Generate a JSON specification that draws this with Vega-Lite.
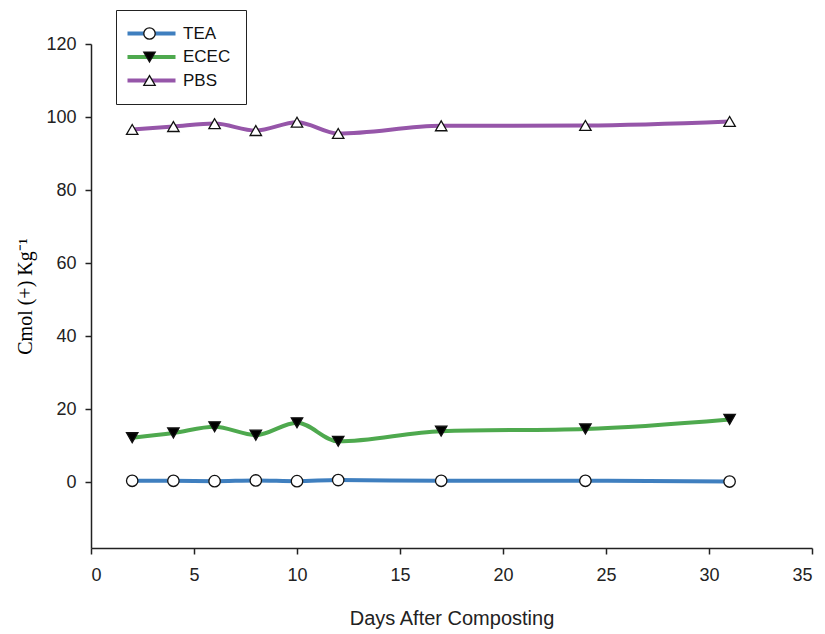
{
  "$schema": "https://vega.github.io/schema/vega-lite/v6.json",
  "width": 721,
  "height": 504,
  "autosize": "none",
  "padding": {"left": 91, "top": 44, "right": 13, "bottom": 86},
  "config": {
    "view": {"stroke": null},
    "font": "Liberation Sans",
    "legend": {"symbolStrokeColor": "#111111"},
    "axis": {
      "grid": false,
      "domainColor": "#222222",
      "domainWidth": 1.5,
      "tickColor": "#222222",
      "tickWidth": 1.5,
      "tickSize": 6,
      "labelColor": "#222222",
      "labelFontSize": 18,
      "labelFont": "Liberation Sans",
      "titleFontWeight": "normal",
      "titleColor": "#222222"
    }
  },
  "data": {
    "values": [
      {"day": 2, "series": "TEA", "value": 0.4},
      {"day": 4, "series": "TEA", "value": 0.4},
      {"day": 6, "series": "TEA", "value": 0.3},
      {"day": 8, "series": "TEA", "value": 0.5},
      {"day": 10, "series": "TEA", "value": 0.3},
      {"day": 12, "series": "TEA", "value": 0.6},
      {"day": 17, "series": "TEA", "value": 0.4},
      {"day": 24, "series": "TEA", "value": 0.4},
      {"day": 31, "series": "TEA", "value": 0.2},
      {"day": 2, "series": "ECEC", "value": 12.2},
      {"day": 4, "series": "ECEC", "value": 13.5},
      {"day": 6, "series": "ECEC", "value": 15.2},
      {"day": 8, "series": "ECEC", "value": 12.9},
      {"day": 10, "series": "ECEC", "value": 16.3},
      {"day": 12, "series": "ECEC", "value": 11.2},
      {"day": 17, "series": "ECEC", "value": 14.0},
      {"day": 24, "series": "ECEC", "value": 14.6},
      {"day": 31, "series": "ECEC", "value": 17.2},
      {"day": 2, "series": "PBS", "value": 96.6},
      {"day": 4, "series": "PBS", "value": 97.4},
      {"day": 6, "series": "PBS", "value": 98.2},
      {"day": 8, "series": "PBS", "value": 96.3},
      {"day": 10, "series": "PBS", "value": 98.6},
      {"day": 12, "series": "PBS", "value": 95.5},
      {"day": 17, "series": "PBS", "value": 97.6},
      {"day": 24, "series": "PBS", "value": 97.7},
      {"day": 31, "series": "PBS", "value": 98.8}
    ]
  },
  "encoding": {
    "x": {
      "field": "day",
      "type": "quantitative",
      "scale": {"domain": [0, 35], "nice": false, "zero": false},
      "axis": {
        "values": [0, 5, 10, 15, 20, 25, 30, 35],
        "title": "Days After Composting",
        "titleFont": "Liberation Sans",
        "titleFontSize": 20,
        "titlePadding": 24,
        "labelPadding": 12
      }
    },
    "y": {
      "field": "value",
      "type": "quantitative",
      "scale": {"domain": [-18, 120], "nice": false, "zero": false},
      "axis": {
        "values": [0, 20, 40, 60, 80, 100, 120],
        "title": "Cmol (+) Kg⁻¹",
        "titleFont": "Liberation Serif",
        "titleFontSize": 20,
        "titleColor": "#000000",
        "titlePadding": 10,
        "labelPadding": 9
      }
    }
  },
  "layer": [
    {
      "mark": {"type": "line", "strokeWidth": 4, "interpolate": "monotone"},
      "encoding": {
        "color": {
          "field": "series",
          "type": "nominal",
          "sort": ["TEA", "ECEC", "PBS"],
          "scale": {"range": ["#3f7fbf", "#4ea94e", "#9656a9"]},
          "legend": {
            "orient": "none",
            "legendX": 25,
            "legendY": -34,
            "title": null,
            "symbolType": "M-2,0H6",
            "symbolSize": 144,
            "symbolStrokeWidth": 4,
            "labelFontSize": 17,
            "labelColor": "#111111",
            "labelOffset": 35,
            "strokeColor": "#222222",
            "padding": 15,
            "rowPadding": 5.5
          }
        }
      }
    },
    {
      "mark": {"type": "point", "filled": true, "size": 130, "stroke": "#111111", "strokeWidth": 1.3, "opacity": 1},
      "encoding": {
        "shape": {
          "field": "series",
          "type": "nominal",
          "scale": {"domain": ["TEA", "ECEC", "PBS"], "range": ["circle", "triangle-down", "triangle-up"]},
          "legend": {
            "orient": "none",
            "legendX": 35,
            "legendY": -34,
            "title": null,
            "symbolSize": 130,
            "symbolStrokeColor": "#111111",
            "symbolStrokeWidth": 1.3,
            "labelFontSize": 17,
            "labelOpacity": 0,
            "padding": 15,
            "rowPadding": 5.5
          }
        },
        "fill": {
          "field": "series",
          "type": "nominal",
          "scale": {"domain": ["TEA", "ECEC", "PBS"], "range": ["#ffffff", "#000000", "#ffffff"]},
          "legend": {
            "orient": "none",
            "legendX": 35,
            "legendY": -34,
            "title": null,
            "symbolSize": 130,
            "symbolStrokeColor": "#111111",
            "symbolStrokeWidth": 1.3,
            "labelFontSize": 17,
            "labelOpacity": 0,
            "padding": 15,
            "rowPadding": 5.5
          }
        },
        "stroke": {
          "field": "series",
          "type": "nominal",
          "scale": {"domain": ["TEA", "ECEC", "PBS"], "range": ["#111111", "#111111", "#111111"]},
          "legend": {
            "orient": "none",
            "legendX": 35,
            "legendY": -34,
            "title": null,
            "symbolSize": 130,
            "symbolStrokeColor": "#111111",
            "symbolStrokeWidth": 1.3,
            "labelFontSize": 17,
            "labelOpacity": 0,
            "padding": 15,
            "rowPadding": 5.5
          }
        }
      }
    }
  ]
}
